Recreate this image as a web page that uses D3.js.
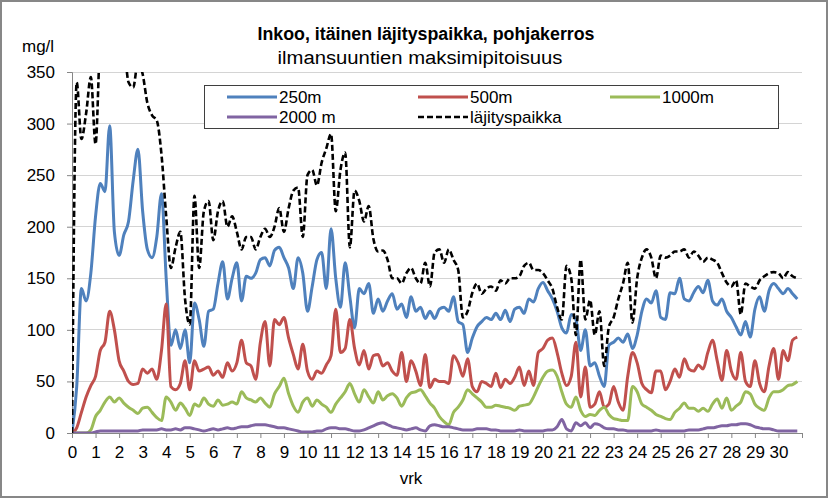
<!DOCTYPE html>
<html><head><meta charset="utf-8">
<script src="https://cdn.jsdelivr.net/npm/d3@7"></script>
<style>
body{margin:0;background:#fff}
svg{display:block}
text{font-family:"Liberation Sans",Arial,sans-serif;fill:#000}
</style>
</head><body>
<svg id="c" width="828" height="498"></svg>
<script>
// x categories: time in days (every 0.2 vrk)
const days = d3.range(0, 30.81, 0.2).map(d => +d.toFixed(1));
const xTickValues = d3.range(0, 32);
const yTickValues = [0, 50, 100, 150, 200, 250, 300, 350];

const seriesNames = ["250m", "500m", "1000m", "2000 m", "läjityspaikka"];

const v250 = [
  0,45,140,128,155,210,242,234,298,195,
  172,192,205,245,275,215,178,170,190,232,
  150,85,100,82,100,68,126,110,84,118,
  120,145,166,130,150,165,128,152,150,155,
  168,170,162,177,180,170,160,140,170,155,
  118,142,168,175,140,198,150,122,165,132,
  102,140,135,145,116,130,118,128,135,120,
  125,112,132,118,122,111,118,111,120,122,
  118,132,108,105,78,92,103,108,112,110,
  116,110,119,108,120,122,116,130,127,140,
  146,138,130,118,102,97,115,110,80,100,
  65,68,55,45,85,88,92,88,96,82,
  95,118,130,126,138,112,110,136,135,150,
  130,128,136,142,136,148,128,124,130,118,
  112,103,95,108,93,120,132,118,138,145,
  140,135,140,135,130
];
const v500 = [
  0,5,20,35,46,55,80,88,118,100,
  70,60,50,47,48,62,58,62,52,80,
  125,45,42,48,70,42,70,60,62,64,
  56,60,54,68,60,68,90,68,65,52,
  88,108,65,110,105,112,92,76,62,86,
  60,52,60,58,66,75,120,78,82,110,
  82,66,80,62,75,76,65,68,60,56,
  78,50,70,60,46,76,44,52,50,50,
  48,75,68,55,72,45,40,50,48,45,
  58,44,52,48,54,64,46,60,46,78,
  82,90,92,78,58,46,55,88,35,64,
  25,28,40,25,28,45,30,22,55,78,
  68,48,42,39,60,60,42,50,62,54,
  72,62,60,66,62,78,90,70,51,80,
  60,52,78,50,45,70,48,40,65,82,
  52,80,70,90,93
];
const v1000 = [
  0,0,0,0,3,16,22,30,35,30,
  34,29,25,22,19,24,25,20,15,12,
  35,30,22,29,24,17,28,26,34,28,
  26,32,27,28,30,28,40,34,32,30,
  34,29,25,38,45,53,38,26,20,30,
  34,26,32,28,25,20,28,34,40,48,
  38,30,42,35,29,40,32,36,38,34,
  26,34,39,40,42,36,29,24,16,11,
  8,20,25,32,42,38,34,30,25,25,
  27,26,25,24,22,26,27,28,35,45,
  54,60,61,55,40,28,25,35,22,16,
  18,17,22,25,18,14,13,12,12,45,
  40,28,25,22,18,16,14,13,20,24,
  29,24,24,21,24,21,28,33,24,34,
  22,26,30,40,38,28,24,22,34,40,
  40,42,46,47,50
];
const v2000 = [
  0,0,0,0,0,1,2,2,2,2,
  2,2,2,2,2,3,3,3,3,4,
  3,3,4,3,5,5,4,3,2,3,
  4,3,4,5,4,5,6,6,7,8,
  8,8,7,6,5,5,4,3,2,1,
  1,1,2,2,4,5,5,4,4,3,
  2,2,3,5,7,9,10,8,6,5,
  4,3,4,5,3,2,7,8,7,6,
  6,5,4,3,3,3,4,4,4,3,
  3,2,2,2,2,3,2,2,2,2,
  2,3,3,6,13,4,2,10,7,10,
  5,9,8,5,4,4,3,3,2,2,
  2,2,2,2,3,2,2,2,2,2,
  2,3,3,3,4,5,5,6,7,7,
  8,8,9,9,8,6,5,4,4,3,
  2,2,2,2,2
];
const vLaj = [
  0,340,285,310,345,280,380,400,400,400,
  400,380,340,335,360,348,320,308,303,270,
  210,160,180,195,130,105,230,160,215,225,
  187,215,225,200,210,195,178,190,190,178,
  190,198,190,200,218,195,218,235,238,190,
  250,255,240,262,276,290,215,255,272,180,
  235,225,205,220,188,176,177,168,150,150,
  145,155,160,150,145,165,142,175,178,165,
  178,168,158,112,118,136,145,135,140,142,
  138,148,145,150,150,152,162,165,158,158,
  155,148,140,122,110,162,150,95,168,110,
  129,95,118,65,103,112,130,145,165,107,
  150,170,178,170,150,172,170,172,176,176,
  178,170,176,172,166,170,168,165,155,146,
  142,148,115,145,142,140,148,152,155,156,
  155,150,156,152,150
];

const seriesValues = [v250, v500, v1000, v2000, vLaj];
const colors = ["#4F81BD", "#C0504D", "#9BBB59", "#8064A2", "#000000"];
const dashes = [null, null, null, null, "6,3"];
const widths = [3, 3, 3, 3, 2.6];

const svg = d3.select("#c");
svg.append("rect").attr("x", 1).attr("y", 1).attr("width", 826).attr("height", 496)
  .attr("fill", "#fff").attr("stroke", "#878787").attr("stroke-width", 2);

const x = d3.scaleLinear().domain([0, 31]).range([72, 802]);
const y = d3.scaleLinear().domain([0, 350]).range([433, 72]);

// gridlines
svg.append("g").selectAll("line").data(yTickValues.filter(d => d > 0)).join("line")
  .attr("x1", x(0)).attr("x2", x(31))
  .attr("y1", d => y(d)).attr("y2", d => y(d))
  .attr("stroke", "#d4d4d4").attr("stroke-width", 1).attr("shape-rendering", "crispEdges");

// axes
const gy = svg.append("g").attr("transform", `translate(${x(0)},0)`)
  .call(d3.axisLeft(y).tickValues(yTickValues).tickSize(5).tickPadding(12).tickFormat(d3.format("d")));
const gx = svg.append("g").attr("transform", `translate(0,${y(0)})`)
  .call(d3.axisBottom(x).tickValues(xTickValues).tickSize(5).tickPadding(8)
    .tickFormat(d => d <= 30 ? d : ""));
[gy, gx].forEach(g => {
  g.select(".domain").attr("stroke", "#868686").attr("stroke-width", 1);
  g.selectAll(".tick line").attr("stroke", "#868686");
  g.selectAll("text").attr("font-size", 17).attr("font-family", "Liberation Sans, Arial, sans-serif").attr("fill", "#000");
});

// clip
svg.append("clipPath").attr("id", "plotclip").append("rect")
  .attr("x", x(0)).attr("y", y(350)).attr("width", x(31) - x(0)).attr("height", y(0) - y(350));

const line = d3.line().x((d, i) => x(days[i])).y(d => y(d)).curve(d3.curveMonotoneX);
const lg = svg.append("g").attr("clip-path", "url(#plotclip)");
seriesValues.forEach((vals, k) => {
  lg.append("path").datum(vals).attr("d", line)
    .attr("fill", "none").attr("stroke", colors[k]).attr("stroke-width", widths[k])
    .attr("stroke-linejoin", "round")
    .attr("stroke-dasharray", dashes[k]);
});

// titles
svg.append("text").attr("x", 426).attr("y", 40).attr("text-anchor", "middle")
  .attr("font-size", 18).attr("font-weight", "bold")
  .attr("textLength", 337).attr("lengthAdjust", "spacingAndGlyphs")
  .text("Inkoo, itäinen läjityspaikka, pohjakerros");
svg.append("text").attr("x", 420).attr("y", 64).attr("text-anchor", "middle")
  .attr("font-size", 18)
  .attr("textLength", 285).attr("lengthAdjust", "spacingAndGlyphs")
  .text("ilmansuuntien maksimipitoisuus");
svg.append("text").attr("x", 22).attr("y", 52).attr("font-size", 17).text("mg/l");
svg.append("text").attr("x", 411).attr("y", 484).attr("text-anchor", "middle").attr("font-size", 17).text("vrk");

// legend
const leg = svg.append("g");
leg.append("rect").attr("x", 204.5).attr("y", 85.5).attr("width", 574).attr("height", 43)
  .attr("fill", "#fff").attr("stroke", "#3f3f3f").attr("stroke-width", 1);
const legPos = [[227, 97], [418, 97], [610, 97], [227, 117], [418, 117]];
seriesNames.forEach((n, k) => {
  const [lx, ly] = legPos[k];
  leg.append("line").attr("x1", lx).attr("x2", lx + 50).attr("y1", ly).attr("y2", ly)
    .attr("stroke", colors[k]).attr("stroke-width", widths[k]).attr("stroke-dasharray", dashes[k]);
  leg.append("text").attr("x", lx + 52).attr("y", ly + 6).attr("font-size", 17).text(n);
});
</script>
</body></html>
